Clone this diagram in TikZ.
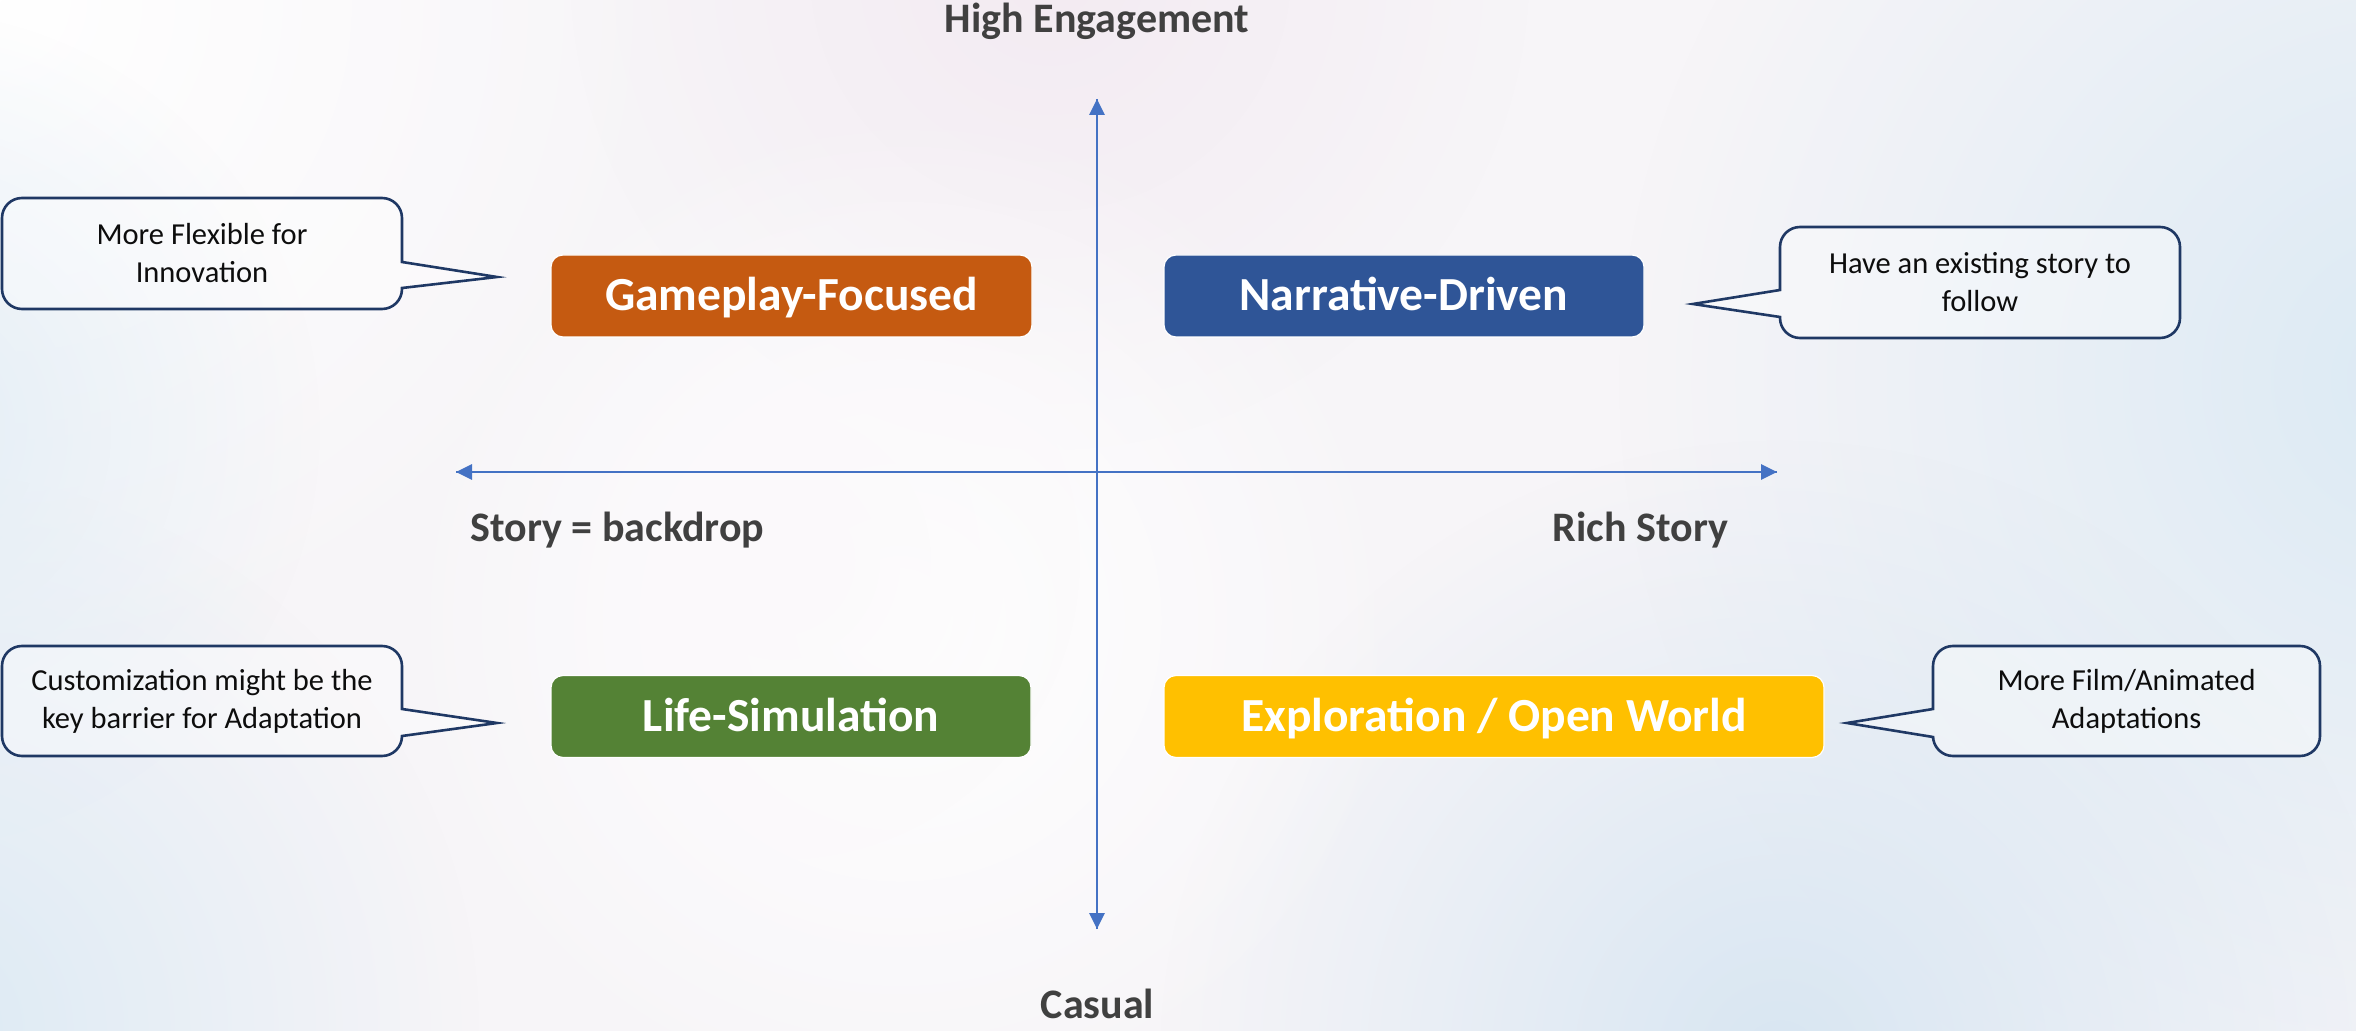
\documentclass[tikz,border=0pt]{standalone}
\usepackage{fontspec}
\setmainfont{Carlito}
\usetikzlibrary{arrows.meta,calc,fadings}

\definecolor{axisblue}{HTML}{4472C4}
\definecolor{labelgray}{HTML}{404040}
\definecolor{gameorange}{HTML}{C55A11}
\definecolor{narrblue}{HTML}{2F5597}
\definecolor{lifegreen}{HTML}{548235}
\definecolor{explyellow}{HTML}{FFC000}
\definecolor{calloutline}{HTML}{1F3864}
\definecolor{bgbase}{HTML}{F7F5F8}
\definecolor{bgblue}{HTML}{DCEAF4}
\definecolor{bgblue2}{HTML}{D8E6F2}
\definecolor{bgpink}{HTML}{F3EBF2}

\tikzfading[name=softdot, inner color=transparent!0, outer color=transparent!100]

\pgfdeclarelayer{bg}
\pgfdeclarelayer{mid}
\pgfsetlayers{bg,mid,main}

% callout outline with its pointer on the east side of body #1
\newcommand{\bubbleEast}[4]{%
  \draw[bubbleline] ($(#1.east)+(0,#3)$) -- (#2) -- ($(#1.east)+(0,#4)$)
    -- ($(#1.south east)+(0,20)$) arc[start angle=0,end angle=-90,radius=20]
    -- ($(#1.south west)+(20,0)$) arc[start angle=270,end angle=180,radius=20]
    -- ($(#1.north west)+(0,-20)$) arc[start angle=180,end angle=90,radius=20]
    -- ($(#1.north east)+(-20,0)$) arc[start angle=90,end angle=0,radius=20]
    -- cycle;}
% callout outline with its pointer on the west side of body #1
\newcommand{\bubbleWest}[4]{%
  \draw[bubbleline] ($(#1.west)+(0,#3)$) -- (#2) -- ($(#1.west)+(0,#4)$)
    -- ($(#1.south west)+(0,20)$) arc[start angle=180,end angle=270,radius=20]
    -- ($(#1.south east)+(-20,0)$) arc[start angle=-90,end angle=0,radius=20]
    -- ($(#1.north east)+(0,-20)$) arc[start angle=0,end angle=90,radius=20]
    -- ($(#1.north west)+(20,0)$) arc[start angle=90,end angle=180,radius=20]
    -- cycle;}

\begin{document}
\begin{tikzpicture}[x=0.5pt,y=0.5pt,
  axis/.style={draw=axisblue, line width=1.35pt, -{Triangle[width=7.5pt,length=8pt]}},
  axislabel/.style={font=\fontsize{21}{25}\selectfont\bfseries, text=labelgray, inner sep=0pt, anchor=base},
  quadbox/.style={rectangle, rounded corners=6pt, draw=white, line width=0.6pt,
    minimum height=41pt, inner sep=0pt, text=white,
    font=\fontsize{23.75}{28}\selectfont\bfseries, text height=15pt, text depth=0pt},
  bubblebody/.style={rectangle, inner sep=0pt, outer sep=0pt, align=center,
    font=\fontsize{15.25}{19}\selectfont, text=black!95},
  bubbleline/.style={draw=calloutline, line width=1.3pt, line join=miter, fill=white, fill opacity=0.35}
]
\useasboundingbox (0,0) rectangle (2356,-1031);

% soft background wash
\begin{pgfonlayer}{bg}
  \fill[bgbase] (0,0) rectangle (2356,-1031);
  \begin{scope}
    \clip (0,0) rectangle (2356,-1031);
    \fill[white, path fading=softdot] (0,0) circle (700);
    \fill[bgblue, path fading=softdot] (-80,-1031) circle (560);
    \fill[bgblue!80, path fading=softdot] (-100,-430) circle (420);
    \fill[bgblue, path fading=softdot] (2420,-380) circle (800);
    \fill[bgblue2, path fading=softdot] (1780,-1060) circle (620);
    \fill[bgpink, path fading=softdot] (1050,30) circle (480);
    \fill[white, path fading=softdot] (900,-620) circle (520);
    \fill[white!70!bgpink, path fading=softdot] (780,-560) circle (300);
  \end{scope}
\end{pgfonlayer}

% axes
\coordinate (vtop) at (1097,-99);
\coordinate (vbot) at (1097,-929);
\coordinate (hleft) at (456,-472);
\coordinate (hright) at (1777,-472);
\draw[axis] (vbot) -- (vtop);
\draw[axis] (vtop) -- (vbot);
\draw[axis] (hright) -- (hleft);
\draw[axis] (hleft) -- (hright);

% axis captions
\node[axislabel] (high) at (1097,-33) {High Engagement};
\node[axislabel] (casual) at (1097.5,-1018) {Casual};
\node[axislabel] (backdrop) at (617.5,-542) {Story = backdrop};
\node[axislabel] (rich) at (1640.5,-542) {Rich Story};

% quadrant categories
\node[quadbox, fill=gameorange, minimum width=240.5pt] (gameplay) at (791.5,-296) {Gameplay-Focused};
\node[quadbox, fill=narrblue, minimum width=240pt] (narrative) at (1404,-296) {Narrative-Driven};
\node[quadbox, fill=lifegreen, minimum width=240pt] (lifesim) at (791,-716.5) {Life-Simulation};
\node[quadbox, fill=explyellow, minimum width=330pt] (explore) at (1494,-716.5) {Exploration / Open World};

% speech bubbles
\node[bubblebody, minimum width=200pt, minimum height=55.5pt] (flex) at (202,-253.5)
  {More Flexible for\\Innovation};
\node[bubblebody, minimum width=200pt, minimum height=55.5pt] (story) at (1980,-282.5)
  {Have an existing story to\\follow};
\node[bubblebody, minimum width=200pt, minimum height=55pt] (custom) at (202,-701)
  {Customization might be the\\key barrier for Adaptation};
\node[bubblebody, minimum width=193.5pt, minimum height=55pt] (film) at (2126.5,-701)
  {More Film/Animated\\Adaptations};

\coordinate (flextip) at (497,-277);
\coordinate (storytip) at (1693,-304);
\coordinate (customtip) at (497,-723);
\coordinate (filmtip) at (1847,-723);

\begin{pgfonlayer}{mid}
  \bubbleEast{flex}{flextip}{-8.5}{-34.5}
  \bubbleWest{story}{storytip}{-7.5}{-34.5}
  \bubbleEast{custom}{customtip}{-8}{-35}
  \bubbleWest{film}{filmtip}{-8}{-36}
\end{pgfonlayer}
\end{tikzpicture}
\end{document}
